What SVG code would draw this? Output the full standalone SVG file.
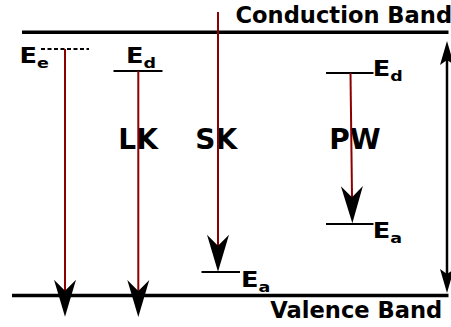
<svg xmlns="http://www.w3.org/2000/svg" width="451" height="327" viewBox="0 0 451 327">
  <defs>
    <style>
      .band { stroke: #000; stroke-width: 3.5; fill: none; }
      .level { stroke: #000; stroke-width: 2; fill: none; }
      .trans { stroke: #8b0000; stroke-width: 2; fill: none; marker-end: url(#barb); }
      .lbl { font-family: "DejaVu Sans", "Liberation Sans", sans-serif; font-weight: bold; fill: #000; }
      .e { font-size: 20.5px; }
      .sub { font-size: 14px; }
      .big { font-size: 28px; }
      .bandlbl { font-size: 22.6px; }
    </style>
    <marker id="barb" markerUnits="userSpaceOnUse" markerWidth="40" markerHeight="24" refX="0" refY="0" orient="auto" overflow="visible">
      <path d="M 20,0 L -17,-11 L -6,0 L -17,11 Z" fill="#000"/>
    </marker>
    <marker id="gap" markerUnits="userSpaceOnUse" markerWidth="30" markerHeight="16" refX="0" refY="0" orient="auto-start-reverse" overflow="visible">
      <path d="M 10,0 L -14,-7 L -9,0 L -14,7 Z" fill="#000"/>
    </marker>
  </defs>

  <g id="conduction-band">
    <line class="band" x1="22" y1="32.3" x2="448.5" y2="32.3"/>
    <text class="lbl bandlbl" x="235.5" y="22.5">Conduction Band</text>
  </g>

  <g id="valence-band">
    <line class="band" x1="12" y1="295.5" x2="448.5" y2="295.5"/>
    <text class="lbl bandlbl" x="270.3" y="318">Valence Band</text>
  </g>

  <g id="level-Ee">
    <line class="level" x1="41" y1="49" x2="89" y2="49" stroke-dasharray="4,2.5"/>
    <text class="lbl e" transform="translate(19.6,62.5) scale(1.25,1)">E<tspan class="sub" dy="5">e</tspan></text>
  </g>

  <g id="level-Ed-LK">
    <line class="level" x1="113.5" y1="71" x2="162.5" y2="71"/>
    <text class="lbl e" transform="translate(126,62.8) scale(1.25,1)">E<tspan class="sub" dy="5">d</tspan></text>
  </g>

  <g id="level-Ea-SK">
    <line class="level" x1="201.5" y1="272" x2="240" y2="272"/>
    <text class="lbl e" transform="translate(241,286.5) scale(1.25,1)">E<tspan class="sub" dy="5">a</tspan></text>
  </g>

  <g id="level-Ed-PW">
    <line class="level" x1="326" y1="73" x2="373.5" y2="73"/>
    <text class="lbl e" transform="translate(372.7,75.8) scale(1.25,1)">E<tspan class="sub" dy="5">d</tspan></text>
  </g>

  <g id="level-Ea-PW">
    <line class="level" x1="326" y1="224" x2="373.5" y2="224"/>
    <text class="lbl e" transform="translate(372.7,238) scale(1.25,1)">E<tspan class="sub" dy="5">a</tspan></text>
  </g>

  <g id="label-LK"><text class="lbl big" x="118.3" y="149.3">LK</text></g>
  <g id="label-SK"><text class="lbl big" x="195.3" y="149.3">SK</text></g>
  <g id="label-PW"><text class="lbl big" x="329.3" y="149.3">PW</text></g>

  <g id="connectors">
    <line class="trans" x1="65" y1="49" x2="65" y2="296.7"/>
    <line class="trans" x1="138.3" y1="71" x2="138.3" y2="297"/>
    <line class="trans" x1="218" y1="12" x2="218" y2="251.7"/>
    <line class="trans" x1="350.5" y1="73" x2="352.1" y2="203.2"/>
    <line x1="447" y1="51" x2="447" y2="283" stroke="#000" stroke-width="2.5" marker-start="url(#gap)" marker-end="url(#gap)"/>
  </g>
</svg>
